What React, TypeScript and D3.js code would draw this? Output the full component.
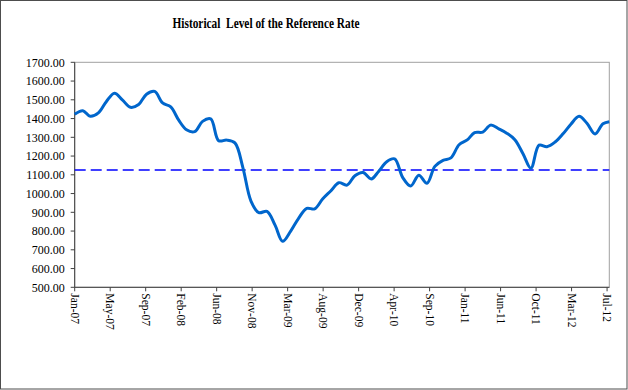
import React from "react";
import * as d3 from "d3";

// ---- data ----
const title = "Historical  Level of the Reference Rate";
const tickLabels = [
  "Jan-07", "May-07", "Sep-07", "Feb-08", "Jun-08", "Nov-08", "Mar-09", "Aug-09",
  "Dec-09", "Apr-10", "Sep-10", "Jan-11", "Jun-11", "Oct-11", "Mar-12", "Jul-12",
];
const yTicks = [500, 600, 700, 800, 900, 1000, 1100, 1200, 1300, 1400, 1500, 1600, 1700];
// monthly values, Jan 2007 .. Jul 2012
const monthlyValues = [
  1423, 1442, 1412, 1430, 1490, 1535, 1500, 1460, 1475, 1530, 1545, 1483,
  1462, 1390, 1340, 1330, 1385, 1398, 1282, 1285, 1270, 1140, 960, 898,
  905, 830, 745, 800, 868, 921, 918, 972, 1015, 1058, 1045, 1095,
  1112, 1078, 1118, 1170, 1185, 1085, 1040, 1098, 1055, 1145, 1177, 1190,
  1260, 1286, 1325, 1328, 1365, 1345, 1322, 1287, 1212, 1135, 1258, 1250,
  1275, 1320, 1370, 1412, 1375, 1318, 1372,
];
const firstDate = "2007-01-01";
const finalDate = "2012-07-25";
const finalValue = 1383;
const referenceLevel = 1125;
const tickStepDays = 134.9;

export default function App() {
  const W = 628, H = 390;
  const left = 74.7, right = 609.3, top = 62.3, bottom = 287.3;
  const parse = d3.timeParse("%Y-%m-%d");
  const start = parse(firstDate)!;
  const end = parse(finalDate)!;

  const data = monthlyValues.map((v, i) => ({ date: d3.timeMonth.offset(start, i), value: v }));
  data.push({ date: end, value: finalValue });

  const x = d3.scaleTime().domain([start, end]).range([left, right]);
  const y = d3.scaleLinear().domain([500, 1700]).range([bottom, top]);

  const line = d3
    .line<{ date: Date; value: number }>()
    .x((d) => x(d.date))
    .y((d) => y(d.value))
    .curve(d3.curveCatmullRom.alpha(0.5));

  const xTicks = tickLabels.map((label, k) => ({
    label,
    date: new Date(start.getTime() + k * tickStepDays * 86400000),
  }));
  const fmt = d3.format(".2f");
  const serif = "'Liberation Serif', 'Times New Roman', serif";

  return (
    <svg width={W} height={H} style={{ position: "absolute", left: 0, top: 0, background: "#fff" }}>
      <rect x={0.5} y={0.5} width={W - 1.5} height={H - 1.5} fill="#fff" stroke="#4d4d4d" strokeWidth={1} />
      <text
        x={266}
        y={28}
        textAnchor="middle"
        fontFamily={serif}
        fontWeight="bold"
        fontSize={15}
        textLength={187}
        lengthAdjust="spacingAndGlyphs"
        style={{ whiteSpace: "pre" }}
        fill="#000"
      >
        {title}
      </text>
      {/* plot border */}
      <rect x={left} y={top} width={right - left} height={bottom - top} fill="none" stroke="#a0a0a0" strokeWidth={1} />
      {/* y axis */}
      <line x1={left} x2={left} y1={top} y2={bottom} stroke="#404040" strokeWidth={1} />
      {yTicks.map((t) => (
        <g key={t}>
          <line x1={left - 4} x2={left} y1={y(t)} y2={y(t)} stroke="#404040" />
          <text
            x={left - 10}
            y={y(t)}
            dy="0.35em"
            textAnchor="end"
            fontFamily={serif}
            fontSize={12}
            fill="#000"
          >
            {fmt(t)}
          </text>
        </g>
      ))}
      {/* x axis */}
      <line x1={left} x2={right} y1={bottom} y2={bottom} stroke="#404040" strokeWidth={1} />
      {xTicks.map((t) => {
        const px = x(t.date);
        return (
          <g key={t.label}>
            <line x1={px} x2={px} y1={bottom} y2={bottom + 4} stroke="#404040" />
            <text
              transform={`translate(${px},${bottom + 6}) rotate(90)`}
              dy="0.35em"
              textAnchor="start"
              fontFamily={serif}
              fontSize={11.5}
              fill="#000"
            >
              {t.label}
            </text>
          </g>
        );
      })}
      {/* reference level */}
      <line
        x1={left}
        x2={right}
        y1={y(referenceLevel)}
        y2={y(referenceLevel)}
        stroke="#0000ff"
        strokeWidth={1.5}
        strokeDasharray="11,5"
      />
      <path d={line(data) || ""} fill="none" stroke="#0066cc" strokeWidth={3} strokeLinejoin="round" />
    </svg>
  );
}
